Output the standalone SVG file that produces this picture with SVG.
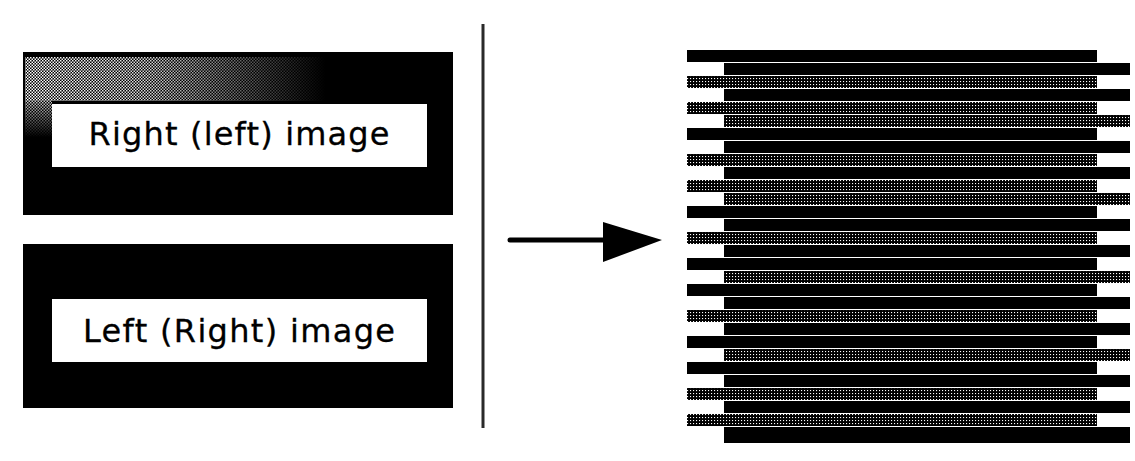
<svg xmlns="http://www.w3.org/2000/svg" width="1135" height="461" viewBox="0 0 1135 461">
  <style>
    .panel { fill: #000; }
    .label-bg { fill: #fff; }
    .label { font-family: "DejaVu Sans", "Liberation Sans", sans-serif; font-size: 32px; fill: #000; text-anchor: middle; stroke: #000; stroke-width: 0.3; }
    .lrow { fill: #000; }
    .rrow { fill: #000; }
    .hatch { fill: url(#dither); }
  </style>
  <defs>
    <pattern id="dither" width="3" height="3" patternUnits="userSpaceOnUse">
      <rect width="3" height="3" fill="#000"/>
      <rect x="0" y="0" width="1.1" height="1.1" fill="#fff"/>
    </pattern>
    <pattern id="grayDither" width="3" height="3" patternUnits="userSpaceOnUse">
      <rect width="3" height="3" fill="#000"/>
      <rect x="0" y="0" width="1.5" height="1.5" fill="#fff"/>
      <rect x="1.5" y="1.5" width="1.5" height="1.5" fill="#fff"/>
    </pattern>
    <linearGradient id="fadeH" x1="0" y1="0" x2="1" y2="0">
      <stop offset="0" stop-color="#000" stop-opacity="0"/>
      <stop offset="0.4" stop-color="#000" stop-opacity="0.15"/>
      <stop offset="1" stop-color="#000" stop-opacity="1"/>
    </linearGradient>
    <linearGradient id="fadeV" x1="0" y1="0" x2="0" y2="1">
      <stop offset="0" stop-color="#000" stop-opacity="0.2"/>
      <stop offset="1" stop-color="#000" stop-opacity="1"/>
    </linearGradient>
  </defs>

  <rect width="1135" height="461" fill="#fff"/>

  <g id="right-left-image">
    <rect class="panel" x="23" y="52" width="430" height="163"/>
    <rect x="25" y="57" width="300" height="44" fill="url(#grayDither)"/>
    <rect x="25" y="57" width="300" height="44" fill="url(#fadeH)"/>
    <rect x="25" y="101" width="27" height="36" fill="url(#grayDither)"/>
    <rect x="25" y="101" width="27" height="36" fill="url(#fadeV)"/>
    <rect class="label-bg" x="52" y="104" width="375" height="63"/>
    <text class="label" x="239" y="145" textLength="301" lengthAdjust="spacing">Right (left) image</text>
  </g>

  <g id="left-right-image">
    <rect class="panel" x="23" y="244" width="430" height="164"/>
    <rect class="label-bg" x="52" y="299" width="375" height="63"/>
    <text class="label" x="239" y="342" textLength="312" lengthAdjust="spacing">Left (Right) image</text>
  </g>

  <g id="divider">
    <line x1="483" y1="24" x2="483" y2="428" stroke="#2a2a2a" stroke-width="3"/>
  </g>

  <g id="connectors">
    <line x1="510" y1="240" x2="604" y2="240" stroke="#000" stroke-width="5" stroke-linecap="round"/>
    <polygon points="603,222 662,240 603,262" fill="#000"/>
  </g>

  <g id="interleaved-image">
    <rect class="lrow" x="687" y="50" width="410" height="12"/>
    <rect class="rrow" x="724" y="63" width="406" height="12"/>
    <rect class="lrow hatch" x="687" y="76" width="410" height="12"/>
    <rect class="rrow" x="724" y="89" width="406" height="12"/>
    <rect class="lrow hatch" x="687" y="102" width="410" height="12"/>
    <rect class="rrow hatch" x="724" y="115" width="406" height="12"/>
    <rect class="lrow" x="687" y="128" width="410" height="12"/>
    <rect class="rrow" x="724" y="141" width="406" height="12"/>
    <rect class="lrow hatch" x="687" y="154" width="410" height="12"/>
    <rect class="rrow" x="724" y="167" width="406" height="12"/>
    <rect class="lrow hatch" x="687" y="180" width="410" height="12"/>
    <rect class="rrow hatch" x="724" y="193" width="406" height="12"/>
    <rect class="lrow" x="687" y="206" width="410" height="12"/>
    <rect class="rrow" x="724" y="219" width="406" height="12"/>
    <rect class="lrow hatch" x="687" y="232" width="410" height="12"/>
    <rect class="rrow" x="724" y="245" width="406" height="12"/>
    <rect class="lrow" x="687" y="258" width="410" height="12"/>
    <rect class="rrow hatch" x="724" y="271" width="406" height="12"/>
    <rect class="lrow" x="687" y="284" width="410" height="12"/>
    <rect class="rrow" x="724" y="297" width="406" height="12"/>
    <rect class="lrow hatch" x="687" y="310" width="410" height="12"/>
    <rect class="rrow" x="724" y="323" width="406" height="12"/>
    <rect class="lrow" x="687" y="336" width="410" height="12"/>
    <rect class="rrow hatch" x="724" y="349" width="406" height="12"/>
    <rect class="lrow" x="687" y="362" width="410" height="12"/>
    <rect class="rrow" x="724" y="375" width="406" height="12"/>
    <rect class="lrow hatch" x="687" y="388" width="410" height="12"/>
    <rect class="rrow" x="724" y="401" width="406" height="12"/>
    <rect class="lrow hatch" x="687" y="414" width="410" height="12"/>
    <rect class="rrow" x="724" y="427" width="406" height="16"/>
  </g>
</svg>
